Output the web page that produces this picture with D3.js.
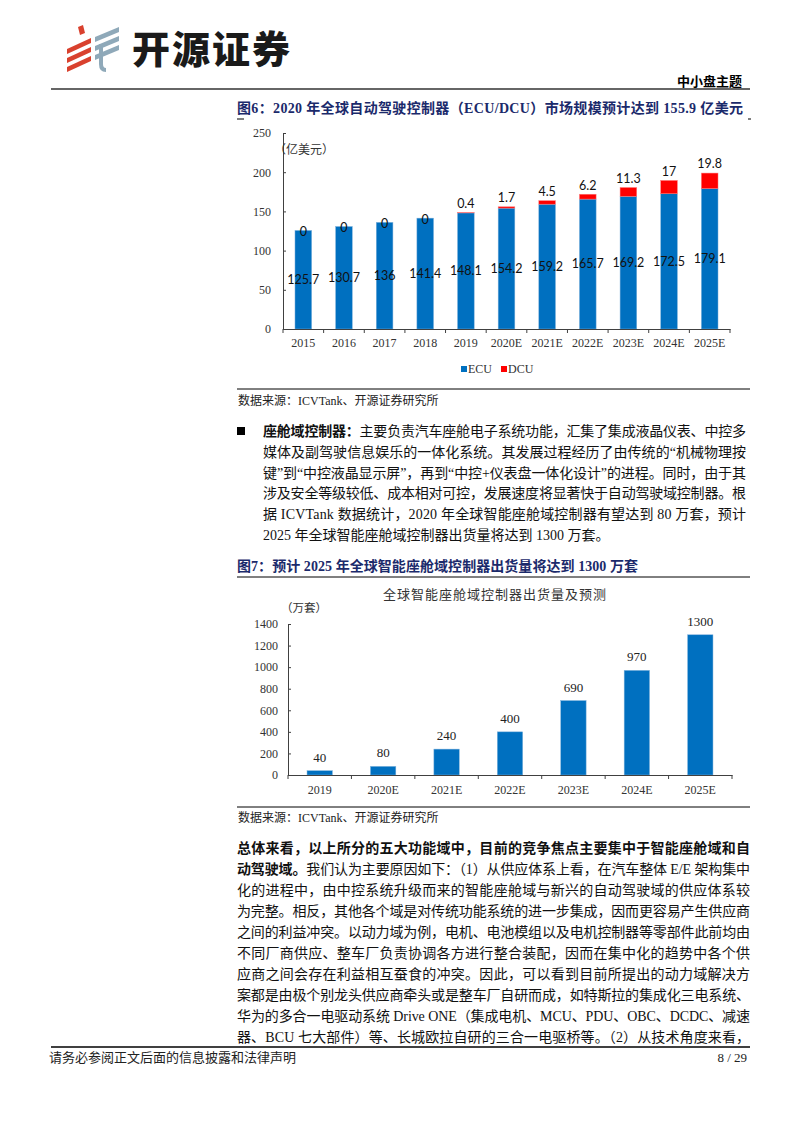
<!DOCTYPE html>
<html>
<head>
<meta charset="utf-8">
<script src="https://cdn.jsdelivr.net/npm/d3@7"></script>
<style>
  body { margin: 0; background: #fff; }
  svg { display: block; }
</style>
</head>
<body>
<script>
// figure 6 data
var years1 = ["2015", "2016", "2017", "2018", "2019", "2020E", "2021E", "2022E", "2023E", "2024E", "2025E"];
var ecu = [125.7, 130.7, 136, 141.4, 148.1, 154.2, 159.2, 165.7, 169.2, 172.5, 179.1];
var dcu = [0, 0, 0, 0, 0.4, 1.7, 4.5, 6.2, 11.3, 17, 19.8];
var yTicks1 = [0, 50, 100, 150, 200, 250];

// figure 7 data
var years2 = ["2019", "2020E", "2021E", "2022E", "2023E", "2024E", "2025E"];
var shipments = [40, 80, 240, 400, 690, 970, 1300];
var yTicks2 = [0, 200, 400, 600, 800, 1000, 1200, 1400];

var serif = "'Liberation Serif','Noto Sans CJK SC',serif";
var cjk = "'Noto Sans CJK SC',sans-serif";

var svg = d3.select("body")
    .append("svg")
    .attr("width", 794)
    .attr("height", 1123);

// ---- header ----
var logo = svg.append("g");
[0, 1, 2].forEach(function(i) {
  logo.append("polygon")
      .attr("points", [[67, 49 + i * 9], [91, 38 + i * 9], [91, 43 + i * 9], [67, 54 + i * 9]].join(" "))
      .attr("fill", "#d9412e");
  logo.append("polygon")
      .attr("points", [[95, 37 + i * 9], [119, 27 + i * 9], [119, 32 + i * 9], [95, 42 + i * 9]].join(" "))
      .attr("fill", "#8fa9b9");
});
logo.append("polygon").attr("points", "78,27 83,25 85,33 80,35").attr("fill", "#d9412e");
logo.append("path")
    .attr("d", "M101,44 L101,64 Q101,70 106,70")
    .attr("fill", "none")
    .attr("stroke", "#8fa9b9")
    .attr("stroke-width", 4);

svg.append("text")
    .attr("x", 132).attr("y", 63)
    .style("font-family", cjk).style("font-weight", 900)
    .style("font-size", "38px").style("letter-spacing", "2px")
    .attr("fill", "#1a1a1a")
    .text("开源证券");

svg.append("text")
    .attr("x", 742).attr("y", 86)
    .attr("text-anchor", "end")
    .style("font-family", cjk).style("font-weight", 700).style("font-size", "13px")
    .text("中小盘主题");

svg.append("line")
    .attr("x1", 51).attr("x2", 750).attr("y1", 89).attr("y2", 89)
    .attr("stroke", "#666").attr("stroke-width", 2);

// ---- figure 6 ----
svg.append("text")
    .attr("x", 237).attr("y", 113)
    .attr("textLength", 506).attr("lengthAdjust", "spacing")
    .style("font-family", serif).style("font-weight", 700).style("font-size", "14px")
    .attr("fill", "#1b2a6b")
    .text("图6：2020 年全球自动驾驶控制器（ECU/DCU）市场规模预计达到 155.9 亿美元");
svg.append("line").attr("x1", 237).attr("x2", 244).attr("y1", 119).attr("y2", 119).attr("stroke", "#000");
svg.append("line").attr("x1", 748).attr("x2", 751).attr("y1", 119).attr("y2", 119).attr("stroke", "#000");

var x1 = d3.scaleBand().domain(years1).range([283, 730]).paddingInner(0.59).paddingOuter(0.295);
var y1 = d3.scaleLinear().domain([0, 250]).range([329, 133]);

var g1 = svg.append("g");

var rows1 = years1.map(function(d, i) { return {year: d, ecu: ecu[i], dcu: dcu[i]}; });

g1.selectAll("rect.ecu")
    .data(rows1)
    .enter()
    .append("rect")
    .attr("class", "ecu")
    .attr("x", function(d) { return x1(d.year); })
    .attr("width", x1.bandwidth())
    .attr("y", function(d) { return y1(d.ecu); })
    .attr("height", function(d) { return y1(0) - y1(d.ecu); })
    .attr("fill", "#0070c0")
    .attr("stroke", "#7fb1dc").attr("stroke-width", 0.5);

g1.selectAll("rect.dcu")
    .data(rows1.filter(function(d) { return d.dcu > 0; }))
    .enter()
    .append("rect")
    .attr("class", "dcu")
    .attr("x", function(d) { return x1(d.year); })
    .attr("width", x1.bandwidth())
    .attr("y", function(d) { return y1(d.ecu + d.dcu); })
    .attr("height", function(d) { return y1(d.ecu) - y1(d.ecu + d.dcu); })
    .attr("fill", "#ff0000")
    .attr("stroke", "#ff8080").attr("stroke-width", 0.5);

var yAxis1 = g1.append("g")
    .attr("transform", "translate(283,0)")
    .call(d3.axisLeft(y1).tickValues(yTicks1).tickSize(-3).tickSizeOuter(0).tickPadding(12));
yAxis1.select(".domain").attr("stroke", "#404040");
yAxis1.selectAll(".tick line").attr("stroke", "#404040");
yAxis1.selectAll("text").style("font-family", serif).style("font-size", "12px").attr("fill", "#333");

var xAxis1 = g1.append("g")
    .attr("transform", "translate(0,329)")
    .call(d3.axisBottom(x1).tickSize(0).tickPadding(9));
xAxis1.select(".domain").attr("stroke", "#404040");
xAxis1.selectAll("text").style("font-family", serif).style("font-size", "12px").attr("fill", "#333");

// tick marks between categories
var bounds1 = years1.map(function(d) { return x1(d) + x1.bandwidth() / 2 + x1.step() / 2; });
bounds1.unshift(x1(years1[0]) + x1.bandwidth() / 2 - x1.step() / 2);
g1.selectAll("line.xt")
    .data(bounds1)
    .enter()
    .append("line")
    .attr("x1", function(d) { return d; }).attr("x2", function(d) { return d; })
    .attr("y1", 329).attr("y2", 333)
    .attr("stroke", "#404040");

// ECU labels, centred in the blue bar
g1.selectAll("text.ecuLab")
    .data(rows1)
    .enter()
    .append("text")
    .attr("x", function(d) { return x1(d.year) + x1.bandwidth() / 2; })
    .attr("y", function(d) { return (y1(0) + y1(d.ecu)) / 2; })
    .attr("dy", "0.35em")
    .attr("text-anchor", "middle")
    .style("font-family", "Lato, sans-serif").style("font-size", "12.5px")
    .attr("fill", "#111")
    .text(function(d) { return d.ecu; });

// DCU labels, above the stack (zeros sit on the bar top)
g1.selectAll("text.dcuLab")
    .data(rows1)
    .enter()
    .append("text")
    .attr("x", function(d) { return x1(d.year) + x1.bandwidth() / 2; })
    .attr("y", function(d) { return y1(d.ecu + d.dcu) + (d.dcu > 0 ? -9 : 1); })
    .attr("dy", "0.35em")
    .attr("text-anchor", "middle")
    .style("font-family", "Lato, sans-serif").style("font-size", "12.5px")
    .attr("fill", "#111")
    .text(function(d) { return d.dcu; });

g1.append("text")
    .attr("x", 274).attr("y", 154)
    .style("font-family", cjk).style("font-size", "12px").attr("fill", "#333")
    .text("（亿美元）");

// legend
var legend1 = g1.append("g").attr("transform", "translate(461,373)");
[["ECU", "#0070c0"], ["DCU", "#ff0000"]].forEach(function(item, i) {
  legend1.append("rect").attr("x", i * 40).attr("y", -7).attr("width", 6).attr("height", 6).attr("fill", item[1]);
  legend1.append("text").attr("x", i * 40 + 7).attr("y", 0)
      .style("font-family", serif).style("font-size", "12px").attr("fill", "#333")
      .text(item[0]);
});

svg.append("line").attr("x1", 237).attr("x2", 750).attr("y1", 389).attr("y2", 389).attr("stroke", "#000");
svg.append("text")
    .attr("x", 238).attr("y", 405)
    .style("font-family", serif).style("font-size", "12px").attr("fill", "#222")
    .text("数据来源：ICVTank、开源证券研究所");

// ---- paragraph helper ----
function para(lines, x0, y0, lh, width) {
  lines.forEach(function(segs, i) {
    var t = svg.append("text")
        .attr("x", x0).attr("y", y0 + i * lh)
        .style("font-family", serif).style("font-size", "14px").attr("fill", "#111");
    if (i < lines.length - 1 || segs.full) {
      t.attr("textLength", width).attr("lengthAdjust", "spacing");
    }
    segs.forEach(function(s) {
      t.append("tspan")
          .style("font-weight", s[1] ? 700 : 400)
          .text(s[0]);
    });
  });
}

svg.append("rect").attr("x", 237).attr("y", 427).attr("width", 8).attr("height", 8).attr("fill", "#000");

var bulletLines = [
  [["座舱域控制器：", 1], ["主要负责汽车座舱电子系统功能，汇集了集成液晶仪表、中控多", 0]],
  [["媒体及副驾驶信息娱乐的一体化系统。其发展过程经历了由传统的“机械物理按", 0]],
  [["键”到“中控液晶显示屏”，再到“中控+仪表盘一体化设计”的进程。同时，由于其", 0]],
  [["涉及安全等级较低、成本相对可控，发展速度将显著快于自动驾驶域控制器。根", 0]],
  [["据 ICVTank 数据统计，2020 年全球智能座舱域控制器有望达到 80 万套，预计", 0]],
  [["2025 年全球智能座舱域控制器出货量将达到 1300 万套。", 0]]
];
para(bulletLines, 263, 436, 20.8, 483);

// ---- figure 7 ----
svg.append("text")
    .attr("x", 237).attr("y", 571)
    .attr("textLength", 401).attr("lengthAdjust", "spacing")
    .style("font-family", serif).style("font-weight", 700).style("font-size", "14px")
    .attr("fill", "#1b2a6b")
    .text("图7：预计 2025 年全球智能座舱域控制器出货量将达到 1300 万套");
svg.append("line").attr("x1", 237).attr("x2", 750).attr("y1", 577).attr("y2", 577).attr("stroke", "#000");

svg.append("text")
    .attr("x", 495).attr("y", 599)
    .attr("text-anchor", "middle")
    .style("font-family", cjk).style("font-size", "13px").style("letter-spacing", "1px")
    .attr("fill", "#333")
    .text("全球智能座舱域控制器出货量及预测");

var x2 = d3.scaleBand().domain(years2).range([288, 732]).paddingInner(0.6).paddingOuter(0.3);
var y2 = d3.scaleLinear().domain([0, 1400]).range([775, 624]);

var g2 = svg.append("g");

g2.selectAll("rect.bar")
    .data(shipments)
    .enter()
    .append("rect")
    .attr("class", "bar")
    .attr("x", function(d, i) { return x2(years2[i]); })
    .attr("width", x2.bandwidth())
    .attr("y", function(d) { return y2(d); })
    .attr("height", function(d) { return y2(0) - y2(d); })
    .attr("fill", "#0070c0")
    .attr("stroke", "#7fb1dc").attr("stroke-width", 0.5);

g2.selectAll("text.val")
    .data(shipments)
    .enter()
    .append("text")
    .attr("x", function(d, i) { return x2(years2[i]) + x2.bandwidth() / 2; })
    .attr("y", function(d) { return y2(d) - 9; })
    .attr("text-anchor", "middle")
    .style("font-family", serif).style("font-size", "13px").attr("fill", "#222")
    .text(function(d) { return d; });

var yAxis2 = g2.append("g")
    .attr("transform", "translate(288,0)")
    .call(d3.axisLeft(y2).tickValues(yTicks2).tickFormat(d3.format("d"))
        .tickSize(-3).tickSizeOuter(0).tickPadding(10));
yAxis2.select(".domain").attr("stroke", "#404040");
yAxis2.selectAll(".tick line").attr("stroke", "#404040");
yAxis2.selectAll("text").style("font-family", serif).style("font-size", "12px").attr("fill", "#333");

var xAxis2 = g2.append("g")
    .attr("transform", "translate(0,775)")
    .call(d3.axisBottom(x2).tickSize(0).tickPadding(10));
xAxis2.select(".domain").attr("stroke", "#404040");
xAxis2.selectAll("text").style("font-family", serif).style("font-size", "12px").attr("fill", "#333");

var bounds2 = years2.map(function(d) { return x2(d) + x2.bandwidth() / 2 + x2.step() / 2; });
bounds2.unshift(x2(years2[0]) + x2.bandwidth() / 2 - x2.step() / 2);
g2.selectAll("line.xt")
    .data(bounds2)
    .enter()
    .append("line")
    .attr("x1", function(d) { return d; }).attr("x2", function(d) { return d; })
    .attr("y1", 775).attr("y2", 779)
    .attr("stroke", "#404040");

g2.append("text")
    .attr("x", 281).attr("y", 612)
    .style("font-family", cjk).style("font-size", "11.5px").attr("fill", "#333")
    .text("（万套）");

svg.append("line").attr("x1", 237).attr("x2", 750).attr("y1", 807).attr("y2", 807).attr("stroke", "#000");
svg.append("text")
    .attr("x", 238).attr("y", 822)
    .style("font-family", serif).style("font-size", "12px").attr("fill", "#222")
    .text("数据来源：ICVTank、开源证券研究所");

// ---- closing paragraph ----
var bodyLines = [
  [["总体来看，以上所分的五大功能域中，目前的竞争焦点主要集中于智能座舱域和自", 1]],
  [["动驾驶域。", 1], ["我们认为主要原因如下：（1）从供应体系上看，在汽车整体 E/E 架构集中", 0]],
  [["化的进程中，由中控系统升级而来的智能座舱域与新兴的自动驾驶域的供应体系较", 0]],
  [["为完整。相反，其他各个域是对传统功能系统的进一步集成，因而更容易产生供应商", 0]],
  [["之间的利益冲突。以动力域为例，电机、电池模组以及电机控制器等零部件此前均由", 0]],
  [["不同厂商供应、整车厂负责协调各方进行整合装配，因而在集中化的趋势中各个供", 0]],
  [["应商之间会存在利益相互蚕食的冲突。因此，可以看到目前所提出的动力域解决方", 0]],
  [["案都是由极个别龙头供应商牵头或是整车厂自研而成，如特斯拉的集成化三电系统、", 0]],
  [["华为的多合一电驱动系统 Drive ONE（集成电机、MCU、PDU、OBC、DCDC、减速", 0]],
  [["器、BCU 七大部件）等、长城欧拉自研的三合一电驱桥等。（2）从技术角度来看，", 0]]
];
bodyLines[bodyLines.length - 1].full = true;
para(bodyLines, 237, 853, 21, 513);

// ---- footer ----
svg.append("line").attr("x1", 51).attr("x2", 750).attr("y1", 1047).attr("y2", 1047)
    .attr("stroke", "#000").attr("stroke-width", 1.5);
svg.append("text")
    .attr("x", 49).attr("y", 1062)
    .style("font-family", cjk).style("font-size", "13px").attr("fill", "#222")
    .text("请务必参阅正文后面的信息披露和法律声明");
svg.append("text")
    .attr("x", 747).attr("y", 1062)
    .attr("text-anchor", "end")
    .style("font-family", serif).style("font-size", "13px").attr("fill", "#222")
    .text("8 / 29");
</script>
</body>
</html>
